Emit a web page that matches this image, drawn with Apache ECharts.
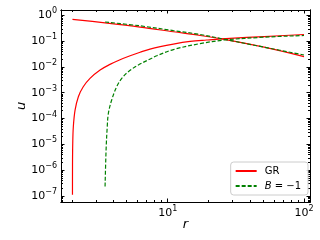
<!DOCTYPE html>
<html>
<head>
<meta charset="utf-8">
<script src="https://cdn.jsdelivr.net/npm/echarts@6/dist/echarts.min.js"></script>
<style>html,body{margin:0;padding:0;background:#fff}#c{width:320px;height:240px}</style>
</head>
<body>
<div id="c"></div>
<script>
// GR: inflow (rising) branch
var grInR = [2.0005, 2.002, 2.01, 2.03, 2.09, 2.21, 2.40, 2.69, 3.19, 3.77, 4.47, 5.3, 6.27, 7.41, 11.0, 14.6, 19.3, 28.6, 51.0, 100.0];
var grInU = [1.1e-7, 1.5e-6, 1.1e-5, 4.8e-5, 2.1e-4, 7.0e-4, 1.7e-3, 3.6e-3, 7.6e-3, 0.0125, 0.019, 0.027, 0.037, 0.049, 0.076, 0.097, 0.110, 0.128, 0.150, 0.180];
// GR: outflow (falling) branch
var grOutR = [2.0, 3.47, 6.27, 11.0, 17.3, 26.0, 51.0, 100.0];
var grOutU = [0.70, 0.51, 0.35, 0.23, 0.165, 0.117, 0.058, 0.025];
// B = -1: inflow branch
var bInR = [3.47, 3.53, 3.60, 3.67, 3.88, 4.22, 4.60, 5.14, 6.09, 7.63, 8.30, 11.0, 17.3, 26.0, 51.0, 100.0];
var bInU = [2.3e-7, 6.0e-6, 4.8e-5, 1.6e-4, 5.2e-4, 1.7e-3, 3.6e-3, 6.5e-3, 0.0119, 0.0216, 0.027, 0.047, 0.080, 0.110, 0.142, 0.165];
// B = -1: outflow branch
var bOutR = [3.47, 6.27, 11.0, 17.3, 26.0, 51.0, 100.0];
var bOutU = [0.55, 0.39, 0.255, 0.18, 0.118, 0.058, 0.029];

var seriesNames = ['GR', 'B = \u22121'];
var xMajorTicks = [1, 2];
var yMajorTicks = [-7, -6, -5, -4, -3, -2, -1, 0];

function pts(rs, us) {
  return rs.map(function (r, i) { return [Math.log10(r), Math.log10(us[i])]; });
}
function minors(lo, hi) {
  var out = [];
  for (var n = lo; n <= hi; n++) for (var k = 2; k <= 9; k++) out.push(n + Math.log10(k));
  return out;
}
var xMin = 0.217, xMax = 2.044, yMin = -7.236, yMax = 0.205;
var xMinor = minors(0, 2).filter(function (v) { return v > xMin && v < xMax; });
var yMinor = minors(-8, 0).filter(function (v) { return v > yMin && v < yMax; });

function powLabel(v) {
  var n = Math.round(v);
  var s = n < 0 ? '\u2212' + (-n) : '' + n;
  return '{b|10}{s|' + s + '}';
}
var rich = {
  b: { fontFamily: 'DejaVu Sans', fontSize: 11, color: '#000' },
  s: { fontFamily: 'DejaVu Sans', fontSize: 8, color: '#000', padding: [0, 0, 8, 0] }
};
var black = { color: '#000', width: 1 };

function xAx(pos, ticks, len, labels) {
  var a = {
    type: 'value', min: xMin, max: xMax, position: pos,
    axisLine: { show: true, onZero: false, lineStyle: black },
    axisTick: { show: true, inside: true, length: len, lineStyle: black, customValues: ticks },
    axisLabel: { show: !!labels, customValues: ticks, formatter: powLabel, rich: rich, margin: 3 },
    splitLine: { show: false }, minorTick: { show: false }
  };
  if (labels) {
    a.name = 'r'; a.nameLocation = 'middle'; a.nameGap = 16; a.nameMoveOverlap = false;
    a.nameTextStyle = { fontFamily: 'DejaVu Sans', fontStyle: 'italic', fontSize: 13, color: '#000' };
  }
  return a;
}
function yAx(pos, ticks, len, labels) {
  var a = {
    type: 'value', min: yMin, max: yMax, position: pos,
    axisLine: { show: true, onZero: false, lineStyle: black },
    axisTick: { show: true, inside: true, length: len, lineStyle: black, customValues: ticks },
    axisLabel: { show: !!labels, customValues: ticks, formatter: powLabel, rich: rich, margin: 4 },
    splitLine: { show: false }, minorTick: { show: false }
  };
  if (labels) {
    a.name = 'u'; a.nameLocation = 'middle'; a.nameGap = 33; a.nameMoveOverlap = false;
    a.nameTextStyle = { fontFamily: 'DejaVu Sans', fontStyle: 'italic', fontSize: 13, color: '#000' };
  }
  return a;
}

function line(name, data, color, dashed) {
  return {
    type: 'line', name: name, data: data, xAxisIndex: 0, yAxisIndex: 0,
    symbol: 'none', smooth: 0.35,
    lineStyle: { color: color, width: 1.2, type: dashed ? [4, 2] : 'solid' },
    itemStyle: { color: color }, z: dashed ? 3 : 2
  };
}

var chart = echarts.init(document.getElementById('c'), null, { renderer: 'canvas' });
chart.setOption({
  animation: false,
  backgroundColor: '#fff',
  grid: { left: 61, right: 10, top: 10, bottom: 38, outerBoundsMode: 'none' },
  xAxis: [
    xAx('bottom', xMajorTicks, 3.5, true),
    xAx('bottom', xMinor, 2, false),
    xAx('top', xMajorTicks, 3.5, false),
    xAx('top', xMinor, 2, false)
  ],
  yAxis: [
    yAx('left', yMajorTicks, 3.5, true),
    yAx('left', yMinor, 2, false),
    yAx('right', yMajorTicks, 3.5, false),
    yAx('right', yMinor, 2, false)
  ],
  legend: {
    data: seriesNames, orient: 'vertical', right: 12, bottom: 45,
    itemWidth: 21, itemHeight: 8, itemGap: 5, padding: [4, 7, 4, 4],
    borderColor: '#ccc', borderWidth: 1, borderRadius: 3,
    backgroundColor: 'rgba(255,255,255,0.8)',
    itemStyle: { opacity: 0 },
    formatter: function (n) { return n === 'GR' ? 'GR' : '{i|B} = \u22121'; },
    textStyle: { fontFamily: 'DejaVu Sans', fontSize: 10, color: '#000', padding: [0, 0, 0, 3],
      rich: { i: { fontFamily: 'DejaVu Sans', fontStyle: 'italic', fontSize: 10, color: '#000' } } }
  },
  series: [
    line(seriesNames[0], pts(grInR, grInU), '#ff0000', false),
    line(seriesNames[0], pts(grOutR, grOutU), '#ff0000', false),
    line(seriesNames[1], pts(bInR, bInU), '#008000', true),
    line(seriesNames[1], pts(bOutR, bOutU), '#008000', true)
  ]
});
</script>
</body>
</html>
